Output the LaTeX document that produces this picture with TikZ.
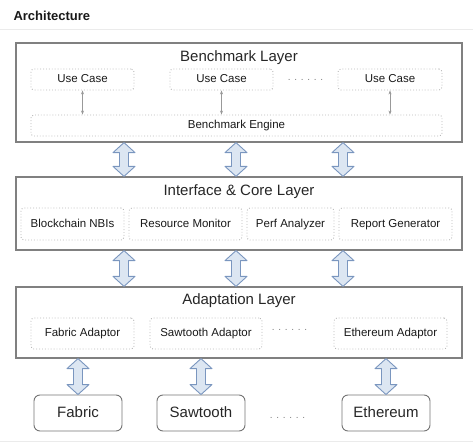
\documentclass[tikz,border=0pt]{standalone}
\usepackage{fontspec}
\setmainfont{Liberation Sans}
\usetikzlibrary{calc,arrows.meta}
\definecolor{arrfill}{RGB}{220,230,242}
\definecolor{arrline}{RGB}{122,150,191}

\newcommand{\fatarrow}[3]{%
  \draw[fatarr] let \p1=(#1 |- #2), \p2=(#1 |- #3) in
    (\x1,\y1) -- (\x1+11pt,\y1-10pt) -- (\x1+4.5pt,\y1-10pt) -- (\x1+4.5pt,\y2+10pt)
    -- (\x1+11pt,\y2+10pt) -- (\x1,\y2) -- (\x1-11pt,\y2+10pt) -- (\x1-4.5pt,\y2+10pt)
    -- (\x1-4.5pt,\y1-10pt) -- (\x1-11pt,\y1-10pt) -- cycle;}

\begin{document}
\begin{tikzpicture}[x=1pt,y=-1pt]
	\tikzset{layer/.style={draw=black!50,line width=1.2pt,minimum width=446pt,inner sep=0pt}}
	\tikzset{part/.style={draw=black!28,dotted,line width=0.9pt,rounded corners=3pt,inner sep=0pt,
		text height=8.5pt,text depth=2pt,text=black!90,font=\fontsize{11.5}{13}\selectfont}}
	\tikzset{chain/.style={draw=black!55,line width=0.9pt,rounded corners=6pt,minimum width=88pt,
		minimum height=36pt,inner sep=0pt,text height=11pt,text depth=3pt,text=black!85,font=\fontsize{15}{18}\selectfont}}
	\tikzset{ltitle/.style={text=black!85,font=\fontsize{15}{18}\selectfont}}
	\tikzset{more/.style={text=black!50,font=\fontsize{10}{12}\selectfont}}
	\tikzset{fatarr/.style={draw=arrline,fill=arrfill,line width=0.9pt,line join=round}}
	\tikzset{thin/.style={draw=black!40,line width=0.5pt,{Stealth[length=4pt,width=3pt]}-{Stealth[length=4pt,width=3pt]}}}
	\useasboundingbox (0,0) rectangle (473,443);
	\node[anchor=west,text=black!90,font=\bfseries\fontsize{13}{15}\selectfont] (head) at (10,16) {Architecture};
	\draw[black!8,line width=0.8pt] (0,29) -- (473,29);
	\draw[black!8,line width=0.8pt] (0,441) -- (473,441);
	% benchmark layer
	\node[layer,minimum height=99pt] (bench) at (239,92.5) {};
	\node[ltitle] (benchT) at (239,57.5) {Benchmark Layer};
	\node[part,minimum width=103pt,minimum height=21pt] (uc1) at (82.5,79.5) {Use Case};
	\node[part,minimum width=103pt,minimum height=21pt] (uc2) at (221.5,79.5) {Use Case};
	\node[part,minimum width=104pt,minimum height=21pt] (uc3) at (390,79.5) {Use Case};
	\node[more] (ucdots) at (305.5,80) {. . . . . .};
	\node[part,minimum width=411pt,minimum height=21pt] (engine) at (236.5,125.5) {Benchmark Engine};
	\draw[thin] (uc1.south) -- (uc1.south |- engine.north);
	\draw[thin] (uc2.south) -- (uc2.south |- engine.north);
	\draw[thin] (uc3.south) -- (uc3.south |- engine.north);
	% interface & core layer
	\node[layer,minimum height=73pt] (core) at (239,213.5) {};
	\node[ltitle] (coreT) at (239,192) {Interface \& Core Layer};
	\node[part,minimum width=103pt,minimum height=32pt] (nbi) at (72.5,224) {Blockchain NBIs};
	\node[part,minimum width=113pt,minimum height=32pt] (mon) at (185.5,224) {Resource Monitor};
	\node[part,minimum width=87pt,minimum height=32pt] (perf) at (290.5,224) {Perf Analyzer};
	\node[part,minimum width=113pt,minimum height=32pt] (rep) at (395.5,224) {Report Generator};
	% adaptation layer
	\node[layer,minimum height=71pt] (adapt) at (239,322.5) {};
	\node[ltitle] (adaptT) at (239,301) {Adaptation Layer};
	\node[part,minimum width=103pt,minimum height=31pt] (fa) at (82.5,333.5) {Fabric Adaptor};
	\node[part,minimum width=112pt,minimum height=31pt] (sa) at (206,333.5) {Sawtooth Adaptor};
	\node[part,minimum width=113pt,minimum height=31pt] (ea) at (390.5,333.5) {Ethereum Adaptor};
	\node[more] (adots) at (289.5,330) {. . . . . .};
	% blockchains
	\node[chain] (fab) at (78,413) {Fabric};
	\node[chain] (saw) at (201,413) {Sawtooth};
	\node[chain] (eth) at (386,413) {Ethereum};
	\node[more] (cdots) at (287.5,417.5) {. . . . . .};
	% fat arrows
	\foreach \c/\xx in {a/124,b/236,c/343}{
		\coordinate (col\c) at (\xx,0);
		\fatarrow{col\c}{bench.south}{core.north}
		\fatarrow{col\c}{core.south}{adapt.north}
	}
	\fatarrow{fab}{adapt.south}{fab.north}
	\fatarrow{saw}{adapt.south}{saw.north}
	\fatarrow{eth}{adapt.south}{eth.north}
\end{tikzpicture}
\end{document}
